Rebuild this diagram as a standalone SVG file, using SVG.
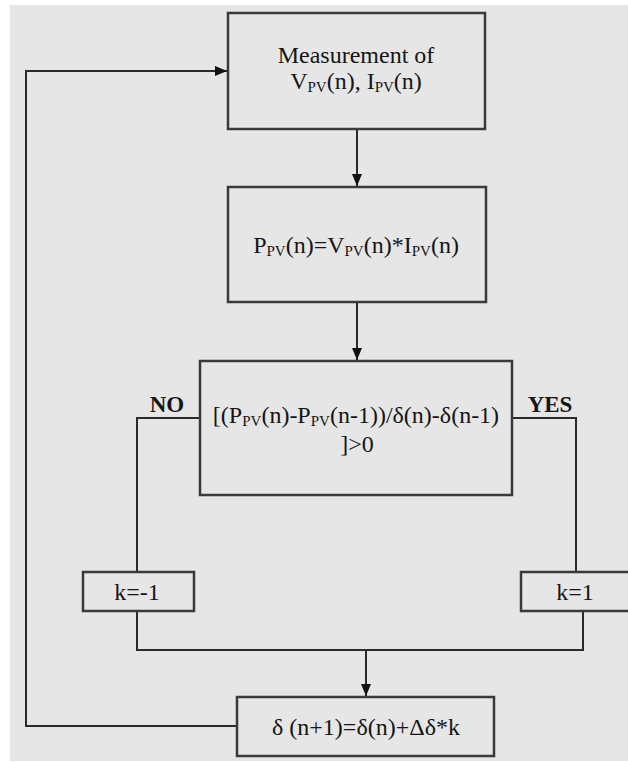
<svg xmlns="http://www.w3.org/2000/svg" width="628" height="762" viewBox="0 0 628 762">
<defs>
<style>
.box{fill:#e6e6e6;stroke:#3a3a3a;stroke-width:2.5}
.ln{fill:none;stroke:#2a2a2a;stroke-width:2}
.t{font-family:"Liberation Serif","Times New Roman",serif;font-size:24px;fill:#151515;text-anchor:middle}
.b{font-weight:bold;font-size:23px}
.s{font-size:15px}
</style>
<marker id="ah" viewBox="0 0 12 10" refX="12" refY="5" markerWidth="12" markerHeight="10" markerUnits="userSpaceOnUse" orient="auto">
<path d="M0,0 L12,5 L0,10 Z" fill="#111"/>
</marker>
</defs>
<rect x="0" y="0" width="628" height="762" fill="#ffffff"/>
<rect x="10" y="5" width="618" height="756" fill="#e6e6e6"/>
<g id="connectors">
<path class="ln" d="M357,129 L357,186" marker-end="url(#ah)"/>
<path class="ln" d="M357,302 L357,360" marker-end="url(#ah)"/>
<path class="ln" d="M200,418 L137,418 L137,572"/>
<path class="ln" d="M512,418 L576,418 L576,572"/>
<path class="ln" d="M137,611 L137,650 L583,650 L583,611"/>
<path class="ln" d="M366,650 L366,696" marker-end="url(#ah)"/>
<path class="ln" d="M237,726 L26,726 L26,71 L227,71" marker-end="url(#ah)"/>
</g>
<g id="measure">
<rect class="box" x="228" y="13" width="257" height="116"/>
<text class="t" x="356" y="63">Measurement of</text>
<text class="t" x="356" y="89">V<tspan class="s" dy="3">PV</tspan><tspan dy="-3">(n), I</tspan><tspan class="s" dy="3">PV</tspan><tspan dy="-3">(n)</tspan></text>
</g>
<g id="power">
<rect class="box" x="228" y="187" width="258" height="115"/>
<text class="t" x="356" y="253">P<tspan class="s" dy="3">PV</tspan><tspan dy="-3">(n)=V</tspan><tspan class="s" dy="3">PV</tspan><tspan dy="-3">(n)*I</tspan><tspan class="s" dy="3">PV</tspan><tspan dy="-3">(n)</tspan></text>
</g>
<g id="decision">
<rect class="box" x="200" y="361" width="312" height="134"/>
<text class="t" x="356" y="423">[(P<tspan class="s" dy="3">PV</tspan><tspan dy="-3">(n)-P</tspan><tspan class="s" dy="3">PV</tspan><tspan dy="-3">(n-1))/δ(n)-δ(n-1)</tspan></text>
<text class="t" x="357" y="452">]&gt;0</text>
</g>
<g id="label-no"><text class="t b" x="167" y="412">NO</text></g>
<g id="label-yes"><text class="t b" x="550" y="412">YES</text></g>
<g id="kneg">
<rect class="box" x="83" y="572" width="111" height="39"/>
<text class="t" x="137" y="600">k=-1</text>
</g>
<g id="kpos">
<rect class="box" x="521" y="572" width="120" height="39"/>
<text class="t" x="575" y="600">k=1</text>
</g>
<g id="update">
<rect class="box" x="237" y="697" width="257" height="59"/>
<text class="t" x="366" y="735">δ (n+1)=δ(n)+Δδ*k</text>
</g>
</svg>
